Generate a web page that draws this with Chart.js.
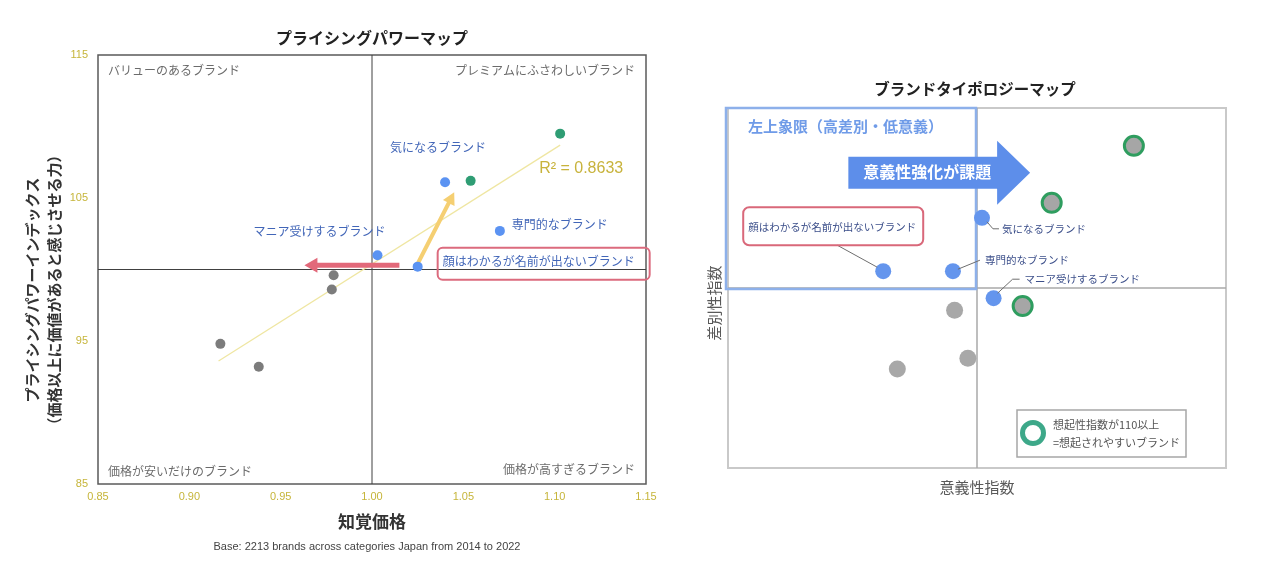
<!DOCTYPE html>
<html lang="ja">
<head>
<meta charset="UTF-8">
<title>プライシングパワーマップ / ブランドタイポロジーマップ</title>
<script src="https://cdn.jsdelivr.net/npm/chart.js"></script>
<style>
  body { margin: 0; background: #fff; width: 1280px; height: 565px; overflow: hidden; position: relative; }
  canvas { position: absolute; top: 0; }
  #powerMap { left: 0; }
  #typoMap { left: 680px; }
</style>
</head>
<body>
<canvas id="powerMap" width="680" height="565"></canvas>
<canvas id="typoMap" width="600" height="565"></canvas>
<script>
const JP = '"Noto Sans CJK JP", "Noto Sans", sans-serif';
const LAT = '"Liberation Sans", Arial, sans-serif';

// --- プライシングパワーマップ (left) ---
const xTicks = [0.85, 0.90, 0.95, 1.00, 1.05, 1.10, 1.15];
const yTicks = [85, 95, 105, 115];
const blueX = [1.040, 1.070, 1.003, 1.025];
const blueY = [106.1, 102.7, 101.0, 100.2];
const blueNames = ['気になるブランド', '専門的なブランド', 'マニア受けするブランド', '顔はわかるが名前が出ないブランド'];
const greenX = [1.103, 1.054];
const greenY = [109.5, 106.2];
const greyX = [0.979, 0.978, 0.917, 0.938];
const greyY = [99.6, 98.6, 94.8, 93.2];
const trendX = [0.916, 1.103];
const trendY = [93.6, 108.7];
const r2Text = 'R² = 0.8633';
const upArrowX = [1.025, 1.045];
const upArrowY = [100.4, 105.4];
const leftArrowX = [1.015, 0.963];
const leftArrowY = [100.3, 100.3];
const quadLabels = ['バリューのあるブランド', 'プレミアムにふさわしいブランド', '価格が安いだけのブランド', '価格が高すぎるブランド'];

// --- ブランドタイポロジーマップ (right) ---
const typoRange = [70, 130];
const typoBlueX = [100.6, 97.1, 102.0, 88.7];
const typoBlueY = [111.7, 102.8, 98.3, 102.8];
const typoBlueNames = ['気になるブランド', '専門的なブランド', 'マニア受けするブランド', '顔はわかるが名前が出ないブランド'];
const typoRingX = [118.9, 109.0, 105.5];
const typoRingY = [123.7, 114.2, 97.0];
const typoGreyX = [97.3, 98.9, 90.4];
const typoGreyY = [96.3, 88.3, 86.5];

const pts = (xs, ys) => xs.map((x, i) => ({ x: x, y: ys[i] }));

function text(ctx, s, x, y, font, color, align) {
  ctx.font = font;
  ctx.fillStyle = color;
  ctx.textAlign = align || 'left';
  ctx.textBaseline = 'middle';
  ctx.fillText(s, x, y);
}

function vtext(ctx, s, x, y, font, color) {
  ctx.save();
  ctx.translate(x, y);
  ctx.rotate(-Math.PI / 2);
  text(ctx, s, 0, 0, font, color, 'center');
  ctx.restore();
}

function arrow(ctx, x1, y1, x2, y2, w, headL, headW, color) {
  const len = Math.hypot(x2 - x1, y2 - y1);
  ctx.save();
  ctx.translate(x1, y1);
  ctx.rotate(Math.atan2(y2 - y1, x2 - x1));
  ctx.fillStyle = color;
  ctx.beginPath();
  ctx.moveTo(0, -w / 2);
  ctx.lineTo(len - headL, -w / 2);
  ctx.lineTo(len - headL, -headW / 2);
  ctx.lineTo(len, 0);
  ctx.lineTo(len - headL, headW / 2);
  ctx.lineTo(len - headL, w / 2);
  ctx.lineTo(0, w / 2);
  ctx.closePath();
  ctx.fill();
  ctx.restore();
}

function line(ctx, coords, color, width) {
  ctx.save();
  ctx.strokeStyle = color;
  ctx.lineWidth = width;
  ctx.beginPath();
  coords.forEach((c, i) => i ? ctx.lineTo(c[0], c[1]) : ctx.moveTo(c[0], c[1]));
  ctx.stroke();
  ctx.restore();
}

// left chart decorations
const powerPlugin = {
  id: 'powerDeco',
  beforeDatasetsDraw(chart) {
    const { ctx, chartArea: ca, scales: { x, y } } = chart;
    ctx.save();
    ctx.strokeStyle = '#5a5a5a';
    ctx.lineWidth = 1.5;
    ctx.strokeRect(ca.left, ca.top, ca.right - ca.left, ca.bottom - ca.top);
    ctx.restore();
    line(ctx, [[x.getPixelForValue(1), ca.top], [x.getPixelForValue(1), ca.bottom]], '#404040', 1);
    line(ctx, [[ca.left, y.getPixelForValue(100)], [ca.right, y.getPixelForValue(100)]], '#404040', 1);
  },
  afterDatasetDraw(chart, args) {
    if (args.index !== 3) return;
    const { ctx, scales: { x, y } } = chart;
    arrow(ctx, x.getPixelForValue(upArrowX[0]), y.getPixelForValue(upArrowY[0]),
      x.getPixelForValue(upArrowX[1]), y.getPixelForValue(upArrowY[1]), 4, 12, 13, '#f5cf72');
    arrow(ctx, x.getPixelForValue(leftArrowX[0]), y.getPixelForValue(leftArrowY[0]),
      x.getPixelForValue(leftArrowX[1]), y.getPixelForValue(leftArrowY[1]), 5, 13, 15, '#e2697a');
  },
  afterDraw(chart) {
    const { ctx, chartArea: ca, scales: { x, y } } = chart;
    const cx = (ca.left + ca.right) / 2;
    text(ctx, 'プライシングパワーマップ', cx, 38, 'bold 16px ' + JP, '#222', 'center');
    text(ctx, '知覚価格', cx, ca.bottom + 38, 'bold 17px ' + JP, '#333', 'center');
    text(ctx, 'Base: 2213 brands across categories Japan from 2014 to 2022', cx - 5, ca.bottom + 63, '11px ' + LAT, '#444', 'center');
    vtext(ctx, 'プライシングパワーインデックス', 32, 290, 'bold 15px ' + JP, '#333');
    vtext(ctx, '（価格以上に価値があると感じさせる力）', 54, 290, 'bold 15px ' + JP, '#333');

    const qf = '12px ' + JP, qc = '#6b6b6b';
    text(ctx, quadLabels[0], ca.left + 10, ca.top + 15, qf, qc);
    text(ctx, quadLabels[1], ca.right - 11, ca.top + 15, qf, qc, 'right');
    text(ctx, quadLabels[2], ca.left + 10, ca.bottom - 13, qf, qc);
    text(ctx, quadLabels[3], ca.right - 11, ca.bottom - 15, qf, qc, 'right');

    const lf = '12px ' + JP, lc = '#4266b8';
    const p = blueX.map((v, i) => [x.getPixelForValue(v), y.getPixelForValue(blueY[i])]);
    text(ctx, blueNames[0], p[0][0] - 7, p[0][1] - 35, lf, lc, 'center');
    text(ctx, blueNames[1], p[1][0] + 12, p[1][1] - 6, lf, lc);
    text(ctx, blueNames[2], p[2][0] + 8, p[2][1] - 24, lf, lc, 'right');
    text(ctx, blueNames[3], p[3][0] + 25, p[3][1] - 5, lf, lc);
    ctx.save();
    ctx.strokeStyle = '#dc6b7e';
    ctx.lineWidth = 2;
    ctx.beginPath();
    ctx.roundRect(p[3][0] + 20, p[3][1] - 19, 212, 32, 5);
    ctx.stroke();
    ctx.restore();

    const te = [x.getPixelForValue(trendX[1]), y.getPixelForValue(trendY[1])];
    text(ctx, r2Text, te[0] - 21, te[0] ? te[1] + 24 : 0, '16px ' + LAT, '#c8b33c');
  }
};

new Chart(document.getElementById('powerMap'), {
  type: 'scatter',
  data: {
    datasets: [
      { data: pts(blueX, blueY), backgroundColor: '#5b93f2', borderWidth: 0, pointRadius: 5 },
      { data: pts(greenX, greenY), backgroundColor: '#2f9d74', borderWidth: 0, pointRadius: 5 },
      { data: pts(greyX, greyY), backgroundColor: '#7c7c7c', borderWidth: 0, pointRadius: 5 },
      { data: pts(trendX, trendY), showLine: true, borderColor: '#efe6a2', borderWidth: 1.3, pointRadius: 0 }
    ]
  },
  options: {
    responsive: false,
    animation: false,
    events: [],
    layout: { padding: { left: 0, top: 55, right: 34, bottom: 0 } },
    plugins: { legend: { display: false }, tooltip: { enabled: false } },
    scales: {
      x: {
        type: 'linear', min: 0.85, max: 1.15,
        afterBuildTicks: s => { s.ticks = xTicks.map(v => ({ value: v })); },
        afterFit: s => { s.height = 81; },
        grid: { display: false, drawTicks: false },
        border: { display: false },
        ticks: { padding: 6, color: '#c6b53a', font: { family: LAT, size: 11 }, callback: v => v.toFixed(2) }
      },
      y: {
        type: 'linear', min: 85, max: 115,
        afterBuildTicks: s => { s.ticks = yTicks.map(v => ({ value: v })); },
        afterFit: s => { s.width = 98; },
        grid: { display: false, drawTicks: false },
        border: { display: false },
        ticks: { padding: 10, color: '#c6b53a', font: { family: LAT, size: 11 } }
      }
    }
  },
  plugins: [powerPlugin]
});

// right chart decorations
const typoPlugin = {
  id: 'typoDeco',
  beforeDatasetsDraw(chart) {
    const { ctx, chartArea: ca, scales: { x, y } } = chart;
    const mx = x.getPixelForValue(100), my = y.getPixelForValue(100);
    ctx.save();
    ctx.strokeStyle = '#c9c9c9';
    ctx.lineWidth = 2;
    ctx.strokeRect(ca.left, ca.top, ca.right - ca.left, ca.bottom - ca.top);
    ctx.restore();
    line(ctx, [[mx, ca.top], [mx, ca.bottom]], '#a8a8a8', 1.5);
    line(ctx, [[ca.left, my], [ca.right, my]], '#a8a8a8', 1.5);

    ctx.save();
    ctx.strokeStyle = '#8db0ea';
    ctx.lineWidth = 2.5;
    ctx.strokeRect(ca.left - 2, ca.top, mx - ca.left + 1, my - ca.top + 1);
    ctx.restore();
    text(ctx, '左上象限（高差別・低意義）', ca.left + 20, ca.top + 18, '600 15px ' + JP, '#6f9be8');

    const ay = y.getPixelForValue(119.2);
    arrow(ctx, x.getPixelForValue(84.5), ay, x.getPixelForValue(106.4), ay, 32, 33, 64, '#5d8eea');
    text(ctx, '意義性強化が課題', x.getPixelForValue(84.5) + 79, ay - 1, 'bold 16px ' + JP, '#fff', 'center');
  },
  afterDraw(chart) {
    const { ctx, chartArea: ca, scales: { x, y } } = chart;
    const cx = (ca.left + ca.right) / 2;
    text(ctx, 'ブランドタイポロジーマップ', cx - 2, 89, 'bold 15.5px ' + JP, '#222', 'center');
    text(ctx, '意義性指数', cx, ca.bottom + 19, '15px ' + JP, '#595959', 'center');
    vtext(ctx, '差別性指数', 34, 303, '15px ' + JP, '#595959');

    const lf = '10.5px ' + JP, lc = '#3c4f8a', lk = '#6e6e6e';
    const p = typoBlueX.map((v, i) => [x.getPixelForValue(v), y.getPixelForValue(typoBlueY[i])]);
    line(ctx, [[p[0][0] + 5, p[0][1] + 4], [p[0][0] + 11, p[0][1] + 11], [p[0][0] + 17, p[0][1] + 11]], lk, 1);
    text(ctx, typoBlueNames[0], p[0][0] + 20, p[0][1] + 11, lf, lc);
    line(ctx, [[p[1][0] + 5, p[1][1] - 2], [p[1][0] + 27, p[1][1] - 11]], lk, 1);
    text(ctx, typoBlueNames[1], p[1][0] + 32, p[1][1] - 11, lf, lc);
    line(ctx, [[p[2][0] + 4, p[2][1] - 5], [p[2][0] + 19, p[2][1] - 19], [p[2][0] + 26, p[2][1] - 19]], lk, 1);
    text(ctx, typoBlueNames[2], p[2][0] + 31, p[2][1] - 19, lf, lc);
    line(ctx, [[p[3][0] - 6, p[3][1] - 4], [p[3][0] - 46, p[3][1] - 26]], lk, 1);
    ctx.save();
    ctx.strokeStyle = '#d9687a';
    ctx.lineWidth = 2;
    ctx.beginPath();
    ctx.roundRect(p[3][0] - 140, p[3][1] - 64, 180, 38, 6);
    ctx.stroke();
    ctx.restore();
    text(ctx, typoBlueNames[3], p[3][0] - 135, p[3][1] - 44, lf, lc);

    // legend box
    const bx = ca.right - 209, by = ca.bottom - 58;
    ctx.save();
    ctx.strokeStyle = '#a6a6a6';
    ctx.lineWidth = 1.5;
    ctx.strokeRect(bx, by, 169, 47);
    ctx.strokeStyle = '#3da889';
    ctx.lineWidth = 5;
    ctx.beginPath();
    ctx.arc(bx + 16, by + 23, 10.5, 0, Math.PI * 2);
    ctx.stroke();
    ctx.restore();
    text(ctx, '想起性指数が110以上', bx + 36, by + 15, '11px ' + JP, '#555');
    text(ctx, '=想起されやすいブランド', bx + 36, by + 33, '11px ' + JP, '#555');
  }
};

new Chart(document.getElementById('typoMap'), {
  type: 'scatter',
  data: {
    datasets: [
      { data: pts(typoBlueX, typoBlueY), backgroundColor: '#6495ed', borderWidth: 0, pointRadius: 8 },
      { data: pts(typoRingX, typoRingY), backgroundColor: '#a6a6a6', borderColor: '#2f9d5f', borderWidth: 3, pointRadius: 9.5 },
      { data: pts(typoGreyX, typoGreyY), backgroundColor: '#a8a8a8', borderWidth: 0, pointRadius: 8.5 }
    ]
  },
  options: {
    responsive: false,
    animation: false,
    events: [],
    layout: { padding: { left: 0, top: 108, right: 54, bottom: 0 } },
    plugins: { legend: { display: false }, tooltip: { enabled: false } },
    scales: {
      x: {
        type: 'linear', min: typoRange[0], max: typoRange[1],
        afterFit: s => { s.height = 97; },
        grid: { display: false }, border: { display: false }, ticks: { display: false }
      },
      y: {
        type: 'linear', min: typoRange[0], max: typoRange[1],
        afterFit: s => { s.width = 48; },
        grid: { display: false }, border: { display: false }, ticks: { display: false }
      }
    }
  },
  plugins: [typoPlugin]
});
</script>
</body>
</html>
